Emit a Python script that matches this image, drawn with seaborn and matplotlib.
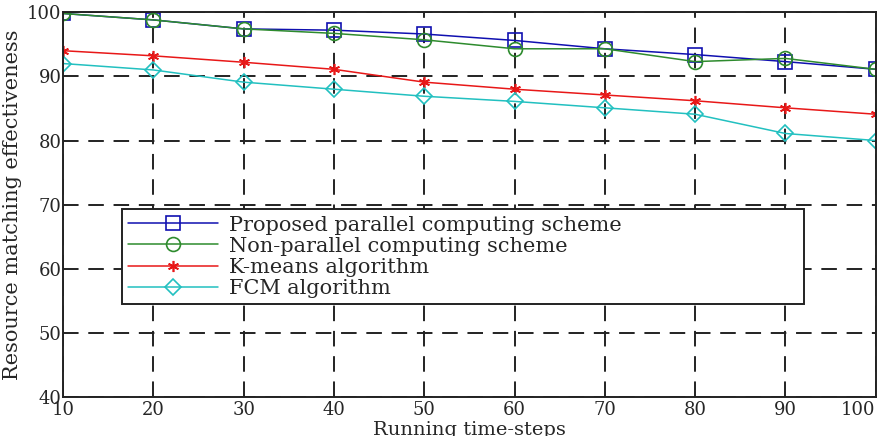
import numpy as np
import pandas as pd
import matplotlib
matplotlib.use("Agg")
import matplotlib.pyplot as plt
import seaborn as sns

# data
steps = [10, 20, 30, 40, 50, 60, 70, 80, 90, 100]
proposed = [99.8, 98.8, 97.4, 97.2, 96.6, 95.6, 94.3, 93.4, 92.3, 91.1]
non_parallel = [99.8, 98.8, 97.4, 96.7, 95.7, 94.3, 94.3, 92.3, 92.8, 91.1]
kmeans = [94.0, 93.2, 92.2, 91.1, 89.1, 88.0, 87.1, 86.2, 85.1, 84.1]
fcm = [92.0, 91.0, 89.1, 88.0, 86.9, 86.1, 85.1, 84.1, 81.1, 80.0]

labels = ["Proposed parallel computing scheme", "Non-parallel computing scheme",
          "K-means algorithm", "FCM algorithm"]
colors = ["#1010b0", "#2e8b2e", "#e81818", "#22c0c0"]
markers = ["s", "o", (6, 2, 0), "D"]
msizes = [10, 10, 8, 8]

sns.set_theme(style="white")
plt.rcParams["font.family"] = ["DejaVu Serif"]

fig = plt.figure(figsize=(8.89, 4.36), dpi=100)
ax = fig.add_axes([0.071, 0.089, 0.914, 0.883])

for vals, lab, c, m, ms in zip([proposed, non_parallel, kmeans, fcm], labels, colors, markers, msizes):
    df = pd.DataFrame({"step": steps, "val": vals})
    sns.lineplot(data=df, x="step", y="val", ax=ax, color=c, marker=m, markersize=ms,
                 markerfacecolor="none", markeredgecolor=c, markeredgewidth=1.2,
                 linewidth=1.1, label=lab)

ax.set_xlim(10, 100)
ax.set_ylim(40, 100)
ax.set_xticks(steps)
ax.set_yticks([40, 50, 60, 70, 80, 90, 100])
ax.tick_params(axis="both", labelsize=13, length=0)
ax.tick_params(axis="x", pad=3)
ax.tick_params(axis="y", pad=1)
ax.get_xticklabels()[-1].set_horizontalalignment("right")
ax.grid(True, color="#222222", linestyle=(0, (8, 5)), linewidth=1.4)
for s in ax.spines.values():
    s.set_color("#222222")
    s.set_linewidth(1.4)

ax.set_xlabel("Running time-steps", fontsize=14, labelpad=1)
ax.set_ylabel("Resource matching effectiveness", fontsize=15, labelpad=4)

leg = ax.legend(loc="lower left", bbox_to_anchor=(0.0726, 0.2416, 0.839, 0.231),
                mode="expand", borderaxespad=0, fontsize=15, frameon=True,
                fancybox=False, edgecolor="#222222", handlelength=4.3,
                handletextpad=0.55, labelspacing=0.1, borderpad=0.3)
leg.get_frame().set_linewidth(1.4)
leg.get_frame().set_alpha(1)

fig.savefig("out.png", dpi=100)
